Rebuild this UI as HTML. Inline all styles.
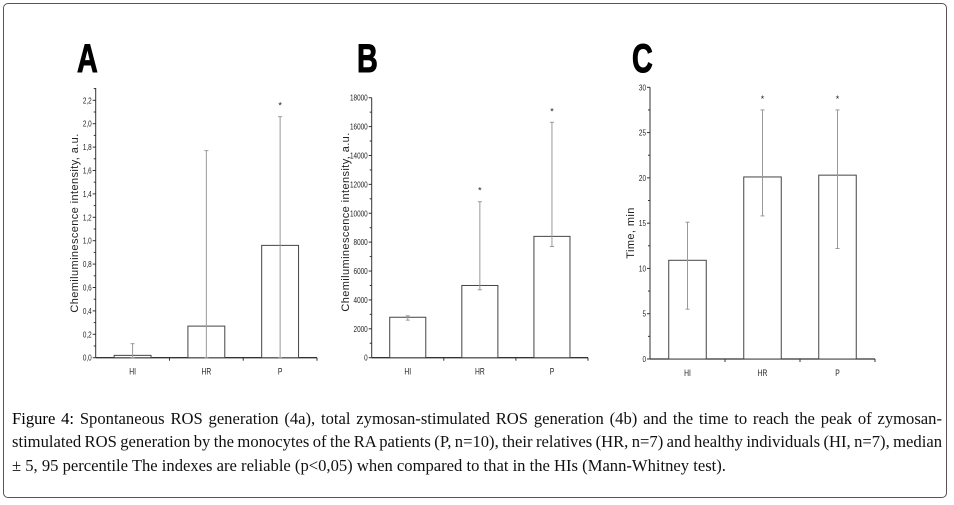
<!DOCTYPE html>
<html><head><meta charset="utf-8"><style>
body{margin:0;background:#fff;width:954px;height:505px;position:relative;overflow:hidden;font-family:"Liberation Sans",sans-serif}
#frame{position:absolute;left:3px;top:3px;width:944px;height:495px;border:1px solid #555;border-radius:5px;box-sizing:border-box}
#caption{position:absolute;left:12px;top:407px;width:930px;font-family:"Liberation Serif",serif;font-size:16.6px;line-height:23.3px;color:#111;white-space:nowrap}
#caption .j{text-align:justify;text-align-last:justify}
#caption .t{word-spacing:-2px}
#caption b{font-weight:normal;color:#000}
svg{position:absolute;left:0;top:0}
</style></head><body>
<div id="frame"></div>
<svg id="chart" width="954" height="400"></svg>
<div id="caption"><div class="j"><b>Figure 4:</b> Spontaneous ROS generation (4a), total zymosan-stimulated ROS generation (4b) and the time to reach the peak of zymosan-</div><div class="j t">stimulated ROS generation by the monocytes of the RA patients (P, n=10), their relatives (HR, n=7) and healthy individuals (HI, n=7), median</div><div>± 5, 95 percentile The indexes are reliable (p&lt;0,05) when compared to that in the HIs (Mann-Whitney test).</div></div>
<script>
const categories = ["HI","HR","P"];
const aValues = [0.02, 0.27, 0.96];
const aErrHigh = [0.12, 1.77, 2.06];
const aErrLow = [0, 0, 0];
const aStars = [false, false, true];
const aTicks = ["0,0","0,2","0,4","0,6","0,8","1,0","1,2","1,4","1,6","1,8","2,0","2,2"];
const bValues = [2800, 5000, 8400];
const bErrHigh = [2900, 10800, 16300];
const bErrLow = [2600, 4700, 7700];
const bStars = [false, true, true];
const bTicks = ["0","2000","4000","6000","8000","10000","12000","14000","16000","18000"];
const cValues = [10.9, 20.1, 20.3];
const cErrHigh = [15.1, 27.5, 27.5];
const cErrLow = [5.5, 15.8, 12.2];
const cStars = [false, true, true];
const cTicks = ["0","5","10","15","20","25","30"];

const NS = "http://www.w3.org/2000/svg";
const svg = document.getElementById('chart');
function mk(tag, attrs, parent){const e=document.createElementNS(NS,tag);for(const k in attrs)e.setAttribute(k,attrs[k]);(parent||svg).appendChild(e);return e;}

function drawPanel(cfg){
  const g = mk('g',{});
  
  
  const y = v => cfg.y0 - (v - cfg.min)/(cfg.max-cfg.min)*(cfg.y0-cfg.yTop);
  const L = mk('text',{x:cfg.letterX,y:72,'font-size':40,'font-weight':'bold','font-family':'Liberation Sans, sans-serif',fill:'#000',stroke:'#000','stroke-width':1,transform:`translate(${cfg.letterX},0) scale(0.72,1) translate(${-cfg.letterX},0)`},g);
  L.textContent = cfg.id;
  
  
  const ya = mk('line',{x1:cfg.ax,y1:cfg.axisTop,x2:cfg.ax,y2:cfg.y0,stroke:'#333','stroke-width':1},g);
  
  
  const xa = mk('line',{x1:cfg.ax,y1:cfg.y0,x2:cfg.xEnd,y2:cfg.y0,stroke:'#333','stroke-width':1.3},g);
  
  
  const n = cfg.ticks.length;
  for(let i=0;i<n;i++){
    const v = cfg.min + i*(cfg.max-cfg.min)/(n-1);
    const ty = y(v);
    mk('line',{x1:cfg.ax-3,y1:ty,x2:cfg.ax,y2:ty,stroke:'#333'},g);
    if(i<n-1){const my=y(v+(cfg.max-cfg.min)/(n-1)/2);mk('line',{x1:cfg.ax-2,y1:my,x2:cfg.ax,y2:my,stroke:'#333'},g);}
    const t = mk('text',{x:cfg.ax-4,y:ty+3,'font-size':8.5,'text-anchor':'end',fill:'#222',transform:`translate(${cfg.ax-4},0) scale(0.75,1) translate(${-(cfg.ax-4)},0)`},g);
    t.textContent = cfg.ticks[i];
    
    
  }
  if(cfg.axisTop < cfg.yTop){
    const extra = (cfg.max-cfg.min)/(n-1)/2;
    const my=y(cfg.max+extra); if(my>=cfg.axisTop) mk('line',{x1:cfg.ax-2,y1:my,x2:cfg.ax,y2:my,stroke:'#333'},g);
  }
  const yt = mk('text',{x:0,y:0,'font-size':11,'letter-spacing':0.4,'text-anchor':'middle',fill:'#222',transform:`translate(${cfg.titleX},${cfg.titleY}) rotate(-90)`},g);
  yt.textContent = cfg.title;
  
  
  const step = (cfg.xEnd - cfg.ax)/3;
  const bw = step*0.5;
  categories.forEach((c,i)=>{
    const cx = cfg.ax + step*(i+0.5);
    const bar = mk('rect',{x:cx-bw/2,y:y(cfg.vals[i]),width:bw,height:cfg.y0-y(cfg.vals[i]),fill:'#fff',stroke:'#444','stroke-width':1},g);
    
    
    const el = mk('line',{x1:cx,y1:y(cfg.hi[i]),x2:cx,y2:y(cfg.lo[i]),stroke:'#999','stroke-width':1},g);
    
    
    mk('line',{x1:cx-2,y1:y(cfg.hi[i]),x2:cx+2,y2:y(cfg.hi[i]),stroke:'#999'},g);
    mk('line',{x1:cx-2,y1:y(cfg.lo[i]),x2:cx+2,y2:y(cfg.lo[i]),stroke:'#999'},g);
    if(cfg.stars[i]){
      const s = mk('text',{x:cx,y:y(cfg.hi[i])-8,'font-size':9,'text-anchor':'middle',fill:'#222'},g);
      s.textContent='*';
      
      
    }
    mk('line',{x1:cfg.ax+step*(i+1),y1:cfg.y0,x2:cfg.ax+step*(i+1),y2:cfg.y0+3,stroke:'#333'},g);
    const xl = mk('text',{x:cx,y:cfg.y0+17,'font-size':9,'text-anchor':'middle',fill:'#222',transform:`translate(${cx},0) scale(0.75,1) translate(${-cx},0)`},g);
    xl.textContent = c;
    
    
  });
}
drawPanel({id:'A',letterX:77,ax:95.7,xEnd:317,y0:357.7,yTop:100.3,axisTop:88,min:0,max:2.2,ticks:aTicks,vals:aValues,hi:aErrHigh,lo:aErrLow,stars:aStars,title:'Chemiluminescence intensity, a.u.',titleX:78,titleY:223});
drawPanel({id:'B',letterX:357,ax:371.7,xEnd:588,y0:357.7,yTop:97.7,axisTop:97.7,min:0,max:18000,ticks:bTicks,vals:bValues,hi:bErrHigh,lo:bErrLow,stars:bStars,title:'Chemiluminescence intensity, a.u.',titleX:349,titleY:222});
drawPanel({id:'C',letterX:632,ax:650,xEnd:875,y0:359,yTop:87.3,axisTop:87.3,min:0,max:30,ticks:cTicks,vals:cValues,hi:cErrHigh,lo:cErrLow,stars:cStars,title:'Time, min',titleX:634,titleY:233});
</script>
</body></html>
